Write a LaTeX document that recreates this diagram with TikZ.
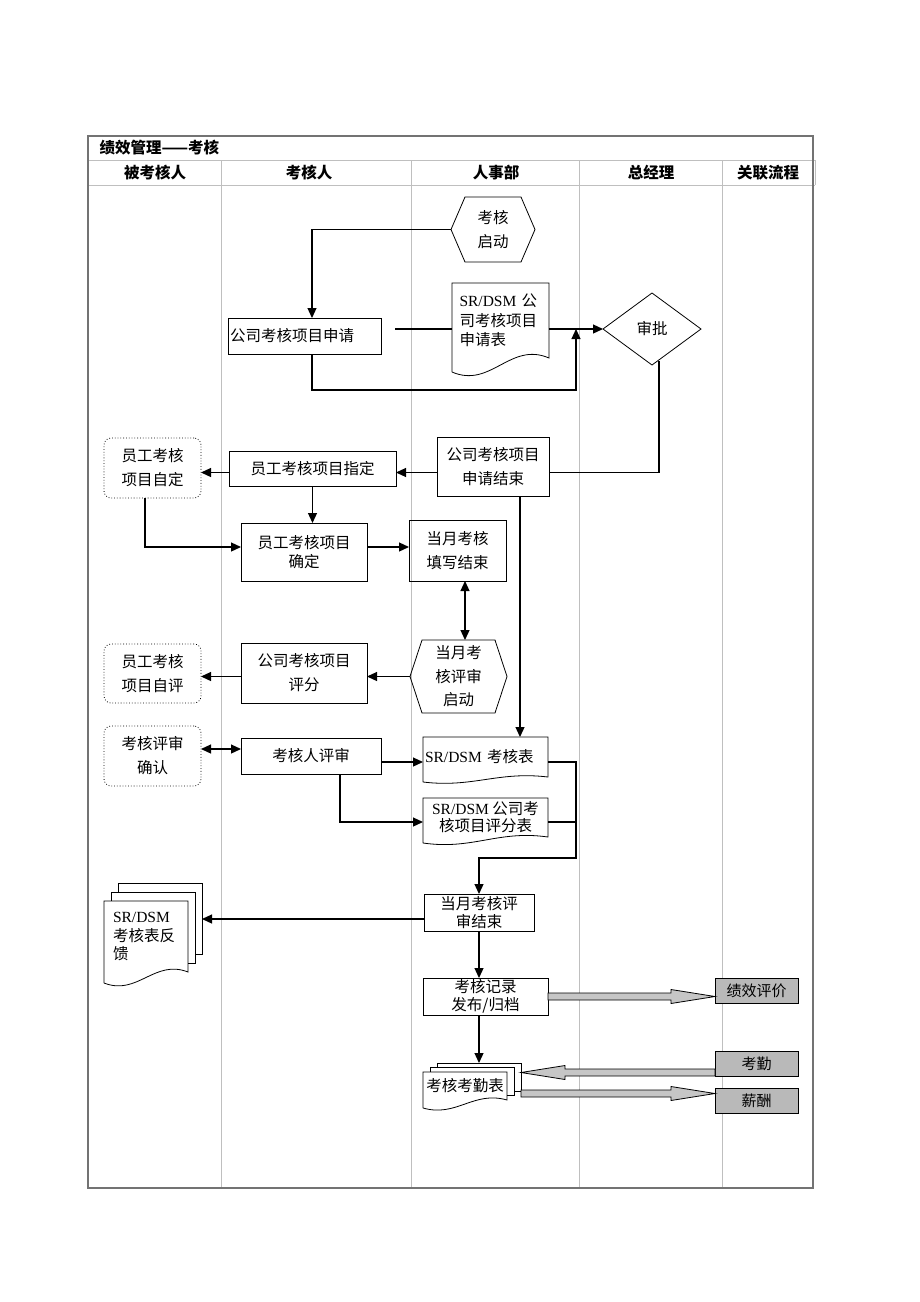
\documentclass[tikz,border=0pt]{standalone}
\usepackage{fontspec}
\setmainfont{Liberation Serif}
\newfontfamily\cjk{Noto Sans CJK SC}
\usepackage{tikz}
\usetikzlibrary{
	positioning,
	arrows.meta,
	shapes.geometric,
	calc
}

\newcommand\bodyfont{\cjk\fontsize{15.5pt}{24pt}\selectfont}
\newcommand\tightfont{\cjk\fontsize{15.5pt}{18.5pt}\selectfont}
\newcommand\srdsm{{\rmfamily SR/DSM}}
\newcommand\hexa[2]{\draw[line width=0.8pt] (#1.west) -- ([xshift=#2]#1.north west) -- ([xshift=-#2]#1.north east) -- (#1.east) -- ([xshift=-#2]#1.south east) -- ([xshift=#2]#1.south west) -- cycle;}
\newcommand\docshape[2]{\draw[line width=0.8pt] ([yshift=-#2]#1.south west) -- (#1.north west) -- (#1.north east) -- (#1.south east) .. controls ($(#1.south west)!0.6!(#1.south east)+(0pt,1.2*#2)$) and ($(#1.south west)!0.4!(#1.south east)+(0pt,-2.2*#2)$) .. ([yshift=-#2]#1.south west);}
\newcommand\fatarrow[2]{\filldraw[fat] let \p1=(#1), \p2=(#2), \n1={ifthenelse(\x2>\x1,1,-1)} in
    (\x1,\y1+3.5pt) -- (\x2-\n1*44pt,\y1+3.5pt) -- (\x2-\n1*44pt,\y1+7pt) -- (\x2,\y1)
    -- (\x2-\n1*44pt,\y1-7pt) -- (\x2-\n1*44pt,\y1-3.5pt) -- (\x1,\y1-3.5pt) -- cycle;}

\begin{document}
\begin{tikzpicture}[x=1pt,y=-1pt,
    box/.style={draw,line width=0.8pt,inner sep=0pt,outer sep=0pt,align=center,font=\bodyfont},
    tbox/.style={box,font=\tightfont},
    bare/.style={inner sep=0pt,outer sep=0pt,align=center,font=\bodyfont},
    page/.style={draw,fill=white,line width=0.8pt,inner sep=0pt,outer sep=0pt},
    own/.style={box,dotted,rounded corners=7pt},
    refbox/.style={box,fill=gray!55,font=\cjk\fontsize{15pt}{18pt}\selectfont},
    flow/.style={line width=1.2pt,-{Triangle[length=10pt,width=9pt]}},
    both/.style={flow,{Triangle[length=10pt,width=9pt]}-{Triangle[length=10pt,width=9pt]}},
    plainline/.style={line width=1.2pt},
    fat/.style={fill=gray!45,draw=black,line width=0.8pt},
    lane/.style={draw=gray!50,line width=0.7pt},
    head/.style={font=\cjk\bfseries\fontsize{15.5pt}{18pt}\selectfont}]
    \useasboundingbox (0,0) rectangle (920,1302);

    \draw[lane] (88,160) -- (813,160) (88,185) -- (815,185)
        (221,160) -- (221,1188) (411,160) -- (411,1188)
        (579,160) -- (579,1188) (722,160) -- (722,1188)
        (813,160) -- (815,160) -- (815,185);
    \draw[draw=black!55,line width=1.8pt] (88,136) rectangle (813,1188);

    \draw
        node [head,anchor=west] (title) at (96,148) {绩效管理——考核}
        node [head] (h1) at (155,172.5) {被考核人}
        node [head] (h2) at (309,172.5) {考核人}
        node [head] (h3) at (496,172.5) {人事部}
        node [head] (h4) at (651,172.5) {总经理}
        node [head] (h5) at (768,172.5) {关联流程}

        node [bare,minimum width=84pt,minimum height=65pt] (ks) at (493,229.5) {考核\\启动}
        node [box,text width=149pt,align=left,inner xsep=2pt,minimum height=36pt] (sq) at (304.5,336) {公司考核项目申请}
        node [bare,font=\cjk\fontsize{15.5pt}{19.5pt}\selectfont,text width=82pt,align=left,minimum width=97pt,minimum height=75pt] (sqb) at (500.5,320.5) {\srdsm\ 公\\司考核项目\\申请表}
        node [draw,diamond,line width=0.8pt,inner sep=0pt,outer sep=0pt,aspect=1.36,minimum width=98pt,minimum height=72pt,font=\bodyfont] (sp) at (652,329) {审批}
        node [box,minimum width=112pt,minimum height=59pt] (js) at (493,466.5) {公司考核项目\\申请结束}
        node [box,minimum width=167pt,minimum height=35pt] (zd) at (312.5,468.5) {员工考核项目指定}
        node [own,minimum width=97pt,minimum height=60pt] (zz) at (152.5,468) {员工考核\\项目自定}
        node [tbox,minimum width=126pt,minimum height=58pt] (qd) at (304,552) {员工考核项目\\确定}
        node [box,minimum width=97pt,minimum height=61pt] (tx) at (457.5,550.5) {当月考核\\填写结束}
        node [bare,font=\cjk\fontsize{15.5pt}{23.5pt}\selectfont,minimum width=97pt,minimum height=73pt] (ps) at (458.5,676.5) {当月考\\核评审\\启动}
        node [box,minimum width=126pt,minimum height=60pt] (pf) at (304,673) {公司考核项目\\评分}
        node [own,minimum width=97pt,minimum height=59pt] (zp) at (152.5,673.5) {员工考核\\项目自评}
        node [own,minimum width=97pt,minimum height=60pt] (qr) at (152.5,756) {考核评审\\确认}
        node [box,minimum width=140pt,minimum height=36pt] (rs) at (311,756) {考核人评审}
        node [bare,text width=121pt,align=left,minimum width=125pt,minimum height=40pt] (khb) at (485.5,757) {\srdsm\ 考核表}
        node [bare,font=\cjk\fontsize{15.5pt}{17pt}\selectfont,minimum width=125pt,minimum height=39pt] (pfb) at (485.5,817.5) {\srdsm\ 公司考\\核项目评分表}
        node [tbox,minimum width=110pt,minimum height=37pt] (jsb) at (479,912.5) {当月考核评\\审结束}
        node [page,minimum width=84pt,minimum height=71pt] (fk3) at (160,918.5) {}
        node [page,minimum width=84pt,minimum height=71pt] (fk2) at (153,927.5) {}
        node [bare,fill=white,font=\tightfont,text width=66pt,align=left,minimum width=84pt,minimum height=71pt] (fk) at (146,936.5) {\srdsm\\考核表反\\馈}
        node [tbox,minimum width=125pt,minimum height=37pt] (jl) at (485.5,996.5) {考核记录\\发布/归档}
        node [page,minimum width=84pt,minimum height=28pt] (kqb3) at (479,1077) {}
        node [page,minimum width=84pt,minimum height=28pt] (kqb2) at (472,1081.5) {}
        node [bare,fill=white,minimum width=84pt,minimum height=28pt] (kqb) at (465,1086) {考核考勤表}
        node [refbox,minimum width=83pt,minimum height=25pt] (jx) at (756.5,990.5) {绩效评价}
        node [refbox,minimum width=83pt,minimum height=25pt] (kq) at (756.5,1063.5) {考勤}
        node [refbox,minimum width=83pt,minimum height=25pt] (xc) at (756.5,1100.5) {薪酬}
    ;
    \hexa{ks}{14pt}
    \hexa{ps}{12pt}
    \docshape{sqb}{14pt}
    \docshape{khb}{5pt}
    \docshape{pfb}{6pt}
    \docshape{fk}{11pt}
    \docshape{kqb}{8pt}

    \coordinate (g1) at (395,329);
    \coordinate (p1) at (576,390);
    \coordinate (p2) at (659,361);
    \coordinate (r1) at (0,472.5);
    \coordinate (p3) at (145,547);
    \coordinate (p4) at (465,0);
    \coordinate (p5) at (520,0);
    \coordinate (r2) at (0,749);
    \coordinate (r3) at (0,762);
    \coordinate (p6) at (340,822);
    \coordinate (p7) at (576,858);
    \coordinate (r4) at (0,919);
    \coordinate (r5) at (0,1072.5);
    \coordinate (r6) at (0,1093.5);

    \draw[flow] (ks.west) -| ([xshift=7.5pt]sq.north);
    \draw[plainline] (g1) -- (g1 -| sqb.west);
    \draw[flow] (sqb.east |- sp.west) -- (sp.west);
    \draw[flow] ([xshift=7.5pt]sq.south) |- (p1) -- (p1 |- sp.west);
    \draw[plainline] (p2) |- (r1 -| js.east);
    \draw[flow] (r1 -| js.west) -- (r1 -| zd.east);
    \draw[flow] (r1 -| zd.west) -- (r1 -| zz.east);
    \draw[flow] (zd.south) -- (zd.south |- qd.north);
    \draw[flow] (p3 |- zz.south) |- (p3 -| qd.west);
    \draw[flow] (p3 -| qd.east) -- (p3 -| tx.west);
    \draw[both] (p4 |- tx.south) -- (p4 |- ps.north);
    \draw[flow] (p5 |- js.south) -- (p5 |- khb.north);
    \draw[flow] (ps.west) -- (ps.west -| pf.east);
    \draw[flow] (ps.west -| pf.west) -- (ps.west -| zp.east);
    \draw[both] (r2 -| qr.east) -- (r2 -| rs.west);
    \draw[flow] (r3 -| rs.east) -- (r3 -| khb.west);
    \draw[flow] (p6 |- rs.south) |- (p6 -| pfb.west);
    \draw[flow] (r3 -| khb.east) -| (p7) -| (jsb.north);
    \draw[plainline] (p6 -| pfb.east) -- (p6 -| p7);
    \draw[flow] (r4 -| jsb.west) -- (r4 -| fk3.east);
    \draw[flow] (jsb.south) -- (jsb.south |- jl.north);
    \draw[flow] (jsb.south |- jl.south) -- (jsb.south |- kqb3.north);

    \fatarrow{jl.east}{jx.west}
    \fatarrow{kq.west |- r5}{kqb3.east |- r5}
    \fatarrow{kqb3.east |- r6}{xc.west |- r6}
\end{tikzpicture}
\end{document}
